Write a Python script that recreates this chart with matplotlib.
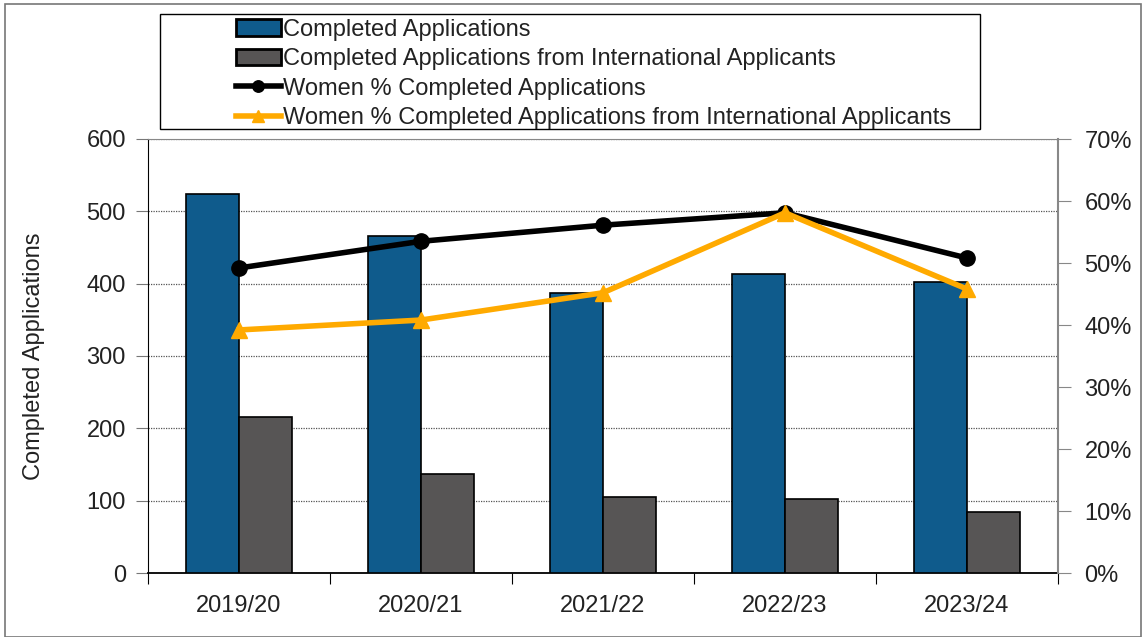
import numpy as np
import matplotlib
matplotlib.use("Agg")
import matplotlib.pyplot as plt
from matplotlib.patches import Rectangle
from matplotlib.ticker import FuncFormatter
from matplotlib import font_manager

names = {f.name for f in font_manager.fontManager.ttflist}
fam = [n for n in ['Liberation Sans Narrow', 'Liberation Sans'] if n in names]
plt.rcParams['font.family'] = fam + ['DejaVu Sans']

years = ["2019/20", "2020/21", "2021/22", "2022/23", "2023/24"]
completed = [524, 466, 387, 413, 402]
completed_intl = [216, 137, 105, 102, 84]
women_pct = [49.2, 53.5, 56.1, 58.1, 50.8]
women_intl_pct = [39.2, 40.8, 45.2, 58.1, 45.8]

blue = "#0f5b8c"
grey = "#575555"
orange = "#ffaa00"

fig = plt.figure(figsize=(11.44, 6.37), dpi=100)
ax = fig.add_axes([148 / 1144, 1 - 573 / 637, 910 / 1144, 434 / 637])
ax2 = ax.twinx()

x = np.arange(len(years))
w = 0.29
b1 = ax.bar(x - w / 2, completed, w, color=blue, edgecolor="black", linewidth=1.2,
            label="Completed Applications", zorder=3)
b2 = ax.bar(x + w / 2, completed_intl, w, color=grey, edgecolor="black", linewidth=1.2,
            label="Completed Applications from International Applicants", zorder=3)

l1, = ax2.plot(x, women_pct, color="black", lw=4, marker="o", ms=11,
               label="Women % Completed Applications", zorder=4)
l2, = ax2.plot(x, women_intl_pct, color=orange, lw=4, marker="^", ms=12,
               label="Women % Completed Applications from International Applicants", zorder=5)

ax.set_xlim(-0.5, len(years) - 0.5)
ax.set_ylim(0, 600)
ax.set_yticks(range(0, 601, 100))
ax2.set_ylim(0, 70)
ax2.set_yticks(range(0, 71, 10))
ax2.yaxis.set_major_formatter(FuncFormatter(lambda v, p: f"{v:.0f}%"))

ax.grid(axis="y", color="#555555", linestyle=(0, (1, 1)), linewidth=0.9, zorder=0)
ax.set_axisbelow(True)

# category ticks at boundaries, labels centred
ax.set_xticks(np.arange(-0.5, len(years)), minor=False)
ax.set_xticklabels([])
ax.set_xticks(x, minor=True)
ax.set_xticklabels(years, minor=True)
ax.tick_params(axis="x", which="major", length=8, direction="out", color="black")
ax.tick_params(axis="x", which="minor", length=0, pad=16, labelsize=17, labelcolor="#222222")
ax.tick_params(axis="y", length=9, direction="out", color="#777777", labelsize=17,
               pad=7, labelcolor="#222222")
ax2.tick_params(axis="y", length=9, direction="out", color="#888888", labelsize=17,
                pad=10, labelcolor="#222222")

ax.spines["top"].set_color("#888888")
ax2.spines["top"].set_visible(False)
ax.spines["right"].set_visible(False)
ax2.spines["right"].set_color("#888888")
ax2.spines["right"].set_linewidth(1.5)
ax2.spines["left"].set_visible(False)
ax2.spines["bottom"].set_visible(False)
ax.spines["left"].set_color("black")
ax.spines["bottom"].set_color("black")
ax.spines["bottom"].set_linewidth(1.3)

ax.set_ylabel("Completed Applications", fontsize=17, labelpad=30, color="#222222")

# legend box drawn separately, entries offset inside it
fig.patches.append(Rectangle((160 / 1144, 1 - 129 / 637), 820 / 1144, 115 / 637,
                             transform=fig.transFigure, fill=False,
                             edgecolor="black", linewidth=1.0, zorder=1))
leg = fig.legend(handles=[b1, b2, l1, l2], loc="upper left",
                 bbox_to_anchor=(236 / 1144, 1 - 19 / 637),
                 ncol=1, fontsize=17, frameon=False, borderpad=0,
                 labelspacing=0.31, handlelength=1.9, handletextpad=0.1,
                 borderaxespad=0, markerscale=0.75)
for t in leg.get_texts():
    t.set_color("#222222")
for p in leg.get_patches():
    p.set_linewidth(2)

fig.patches.append(Rectangle((5 / 1144, 0.0), 1 - 8 / 1144, 1 - 4 / 637,
                             transform=fig.transFigure, fill=False,
                             edgecolor="#777777", linewidth=1.2))

fig.savefig("out.png", dpi=100)
